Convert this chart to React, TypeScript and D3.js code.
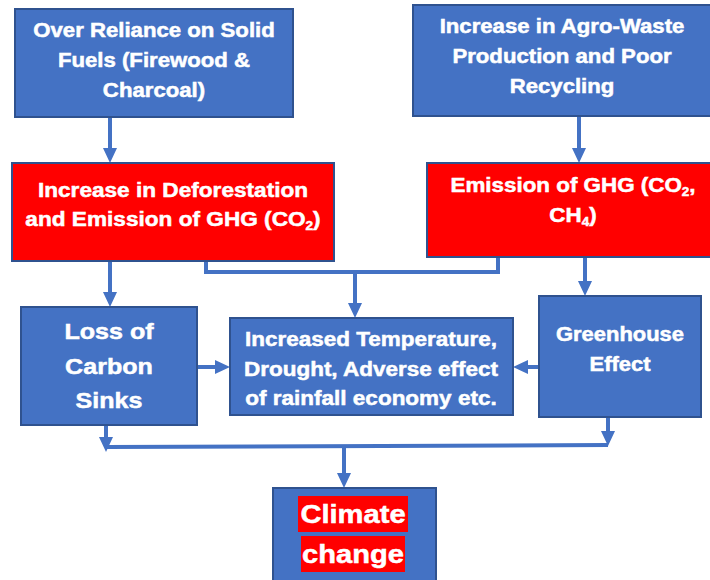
import React from 'react';
import * as d3 from 'd3';

// ---- Data: node labels (subscripts marked with _n) ----
const nodeIds = ['fuels', 'agro', 'defor', 'emission', 'sinks', 'temp', 'greenhouse', 'climate'];
const nodeLines: string[][] = [
  ['Over Reliance on Solid', 'Fuels (Firewood &', 'Charcoal)'],
  ['Increase in Agro-Waste', 'Production and Poor', 'Recycling'],
  ['Increase in Deforestation', 'and Emission of GHG (CO_2)'],
  ['Emission of GHG (CO_2,', 'CH_4)'],
  ['Loss of', 'Carbon', 'Sinks'],
  ['Increased Temperature,', 'Drought, Adverse effect', 'of rainfall economy etc.'],
  ['Greenhouse', 'Effect'],
  ['Climate', 'change'],
];
const nodeKinds = ['cause', 'cause', 'emission', 'emission', 'effect', 'effect', 'effect', 'outcome'];
const edgeFrom = ['fuels', 'agro', 'defor', 'emission', 'defor', 'emission', 'sinks', 'greenhouse', 'sinks', 'greenhouse'];
const edgeTo = ['defor', 'emission', 'temp', 'temp', 'sinks', 'greenhouse', 'temp', 'temp', 'climate', 'climate'];

// ---- Layout (separate from data) ----
const layout: Record<string, { x: number; y: number; w: number; h: number; base: number[]; size: number }> = {
  fuels: { x: 15, y: 9, w: 278, h: 108, base: [37, 67, 97], size: 19.8 },
  agro: { x: 413, y: 5, w: 310, h: 111, base: [33, 63, 93], size: 19.8 },
  defor: { x: 12, y: 163, w: 322, h: 98, base: [197, 226], size: 20.2 },
  emission: { x: 427, y: 163, w: 300, h: 94, base: [192, 222], size: 20 },
  sinks: { x: 21, y: 307, w: 176, h: 118, base: [339, 374, 408], size: 22.4 },
  temp: { x: 230, y: 318, w: 283, h: 97, base: [346, 376, 405], size: 20.1 },
  greenhouse: { x: 539, y: 296, w: 162, h: 121, base: [341, 371], size: 19.6 },
  climate: { x: 273, y: 488, w: 163, h: 100, base: [523, 563], size: 26 },
};
const highlight = [
  { x: 298, y: 496, w: 110, h: 36 },
  { x: 301, y: 536, w: 104, h: 36 },
];

const fills: Record<string, string> = { cause: '#4472C4', emission: '#FF0000', effect: '#4472C4', outcome: '#4472C4' };
const BLUE = '#4472C4';
const STROKE = '#2F528F';
const SX = 1.12;

function renderLine(s: string, size: number) {
  const parts = s.split(/_(\d)/);
  const out: React.ReactNode[] = [];
  let pending = 0;
  parts.forEach((p, i) => {
    if (!p) return;
    if (i % 2 === 0) {
      out.push(<tspan key={i} dy={pending || undefined}>{p}</tspan>);
      pending = 0;
    } else {
      const sh = size * 0.2;
      out.push(<tspan key={i} fontSize={size * 0.6} dy={sh}>{p}</tspan>);
      pending = -sh;
    }
  });
  return out;
}

function arrowHead(x: number, y: number, dir: 'down' | 'right' | 'left') {
  const p = d3.path();
  const hw = 7, len = 15;
  if (dir === 'down') {
    p.moveTo(x - hw, y - len); p.lineTo(x + hw, y - len); p.lineTo(x, y);
  } else if (dir === 'right') {
    p.moveTo(x - len, y - hw); p.lineTo(x - len, y + hw); p.lineTo(x, y);
  } else {
    p.moveTo(x + len, y - hw); p.lineTo(x + len, y + hw); p.lineTo(x, y);
  }
  p.closePath();
  return p.toString();
}

export default function App() {
  const L = layout;
  const line = d3.line<[number, number]>();
  const bottomY = (id: string) => L[id].y + L[id].h;
  const cx = (id: string) => L[id].x + L[id].w / 2;

  const segs: [number, number][][] = [];
  const heads: string[] = [];
  edgeFrom.forEach((f, i) => {
    const t = edgeTo[i];
    if (f === 'fuels' || f === 'agro') {
      const x = f === 'fuels' ? 110 : 579;
      segs.push([[x, bottomY(f)], [x, L[t].y - 12]]);
      heads.push(arrowHead(x, L[t].y, 'down'));
    }
    if (f === 'defor' && t === 'sinks') {
      segs.push([[110, bottomY(f)], [110, L[t].y - 12]]);
      heads.push(arrowHead(110, L[t].y, 'down'));
    }
    if (f === 'emission' && t === 'greenhouse') {
      segs.push([[585, bottomY(f)], [585, L[t].y - 12]]);
      heads.push(arrowHead(585, L[t].y, 'down'));
    }
    if (f === 'sinks' && t === 'temp') {
      segs.push([[L[f].x + L[f].w, 367], [L[t].x - 12, 367]]);
      heads.push(arrowHead(L[t].x, 367, 'right'));
    }
    if (f === 'greenhouse' && t === 'temp') {
      segs.push([[L[f].x, 367], [L[t].x + L[t].w + 12, 367]]);
      heads.push(arrowHead(L[t].x + L[t].w, 367, 'left'));
    }
  });
  segs.push([[206, bottomY('defor')], [206, 272], [498, 272], [498, bottomY('emission')]]);
  segs.push([[355, 272], [355, L.temp.y - 12]]);
  heads.push(arrowHead(355, L.temp.y, 'down'));
  segs.push([[106, bottomY('sinks')], [106, 440]]);
  heads.push(arrowHead(106, 452, 'down'));
  segs.push([[106, 447], [608, 445]]);
  segs.push([[608, bottomY('greenhouse')], [608, 434]]);
  heads.push(arrowHead(608, 446, 'down'));
  segs.push([[344, 447], [344, L.climate.y - 12]]);
  heads.push(arrowHead(344, L.climate.y, 'down'));

  return (
    <svg width={710} height={580} style={{ position: 'absolute', left: 0, top: 0, background: '#fff' }}
      fontFamily="'Liberation Sans', Arial, sans-serif" fontWeight="bold">
      <rect width={710} height={580} fill="#fff" />
      {segs.map((s, i) => (
        <path key={'s' + i} d={line(s) || ''} fill="none" stroke={BLUE} strokeWidth={4} />
      ))}
      {heads.map((h, i) => (
        <path key={'h' + i} d={h} fill={BLUE} />
      ))}
      {nodeIds.map((id, i) => {
        const b = L[id];
        return (
          <g key={id}>
            <rect x={b.x} y={b.y} width={b.w} height={b.h} fill={fills[nodeKinds[i]]} stroke={STROKE} strokeWidth={2} />
            {id === 'climate' && highlight.map((r, j) => (
              <rect key={j} x={r.x} y={r.y} width={r.w} height={r.h} fill="#FF0000" />
            ))}
            {nodeLines[i].map((ln, j) => {
              const tx = id === 'agro' ? 562 : id === 'emission' ? 573 : id === 'temp' ? 371 : id === 'climate' ? 353 : cx(id);
              return (
                <text key={j} transform={`translate(${tx},${b.base[j]}) scale(${SX},1)`} textAnchor="middle"
                  fill="#fff" stroke="#fff" strokeWidth={0.5} fontSize={b.size}>
                  {renderLine(ln, b.size)}
                </text>
              );
            })}
          </g>
        );
      })}
    </svg>
  );
}
